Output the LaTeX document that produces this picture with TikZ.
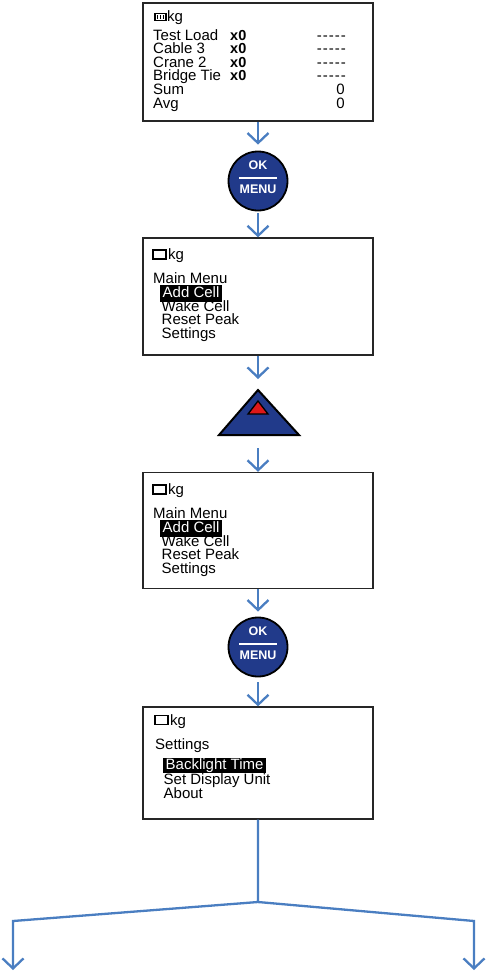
\documentclass[tikz,border=0pt]{standalone}
\usepackage{xcolor}
\usepackage{fontspec}
\setmainfont{Liberation Sans}
\usepackage{tikz}
\usetikzlibrary{shapes,arrows.meta,positioning}
\definecolor{flowblue}{RGB}{74,126,193}
\definecolor{keyblue}{RGB}{33,58,138}
\definecolor{keyred}{RGB}{222,24,24}
\newcommand{\nodash}{-\kern1pt-\kern1pt-\kern1pt-\kern1pt-}
\begin{document}
\begin{tikzpicture}
  [
    x=1pt, y=-1pt,
    Screen/.style={rectangle, draw=black!85, fill=white, line width=1.3pt, minimum width=230pt},
    Key/.style={circle, draw=black, fill=keyblue, line width=1.8pt, minimum size=59pt, inner sep=0pt},
    KeyText/.style={text=white, inner sep=0pt, font=\fontsize{12.5}{12.5}\selectfont\bfseries},
    Flow/.style={-{Straight Barb[length=10pt,width=21pt]}, draw=flowblue, line width=2.3pt},
    Row/.style={anchor=base west, inner sep=0pt, font=\fontsize{15}{15}\selectfont},
    Tag/.style={anchor=base west, inner sep=0pt, font=\fontsize{14.5}{14.5}\selectfont\bfseries},
    Dash/.style={anchor=base east, inner sep=0pt, font=\fontsize{15}{15}\selectfont},
    Sel/.style={Row, fill=black, text=white, inner xsep=2.5pt, inner ysep=0.5pt, text height=12pt, text depth=4pt},
    Batt/.style={rectangle, draw=black, line width=1.2pt, inner sep=0pt}
  ]
  \useasboundingbox (0,0) rectangle (485,972);

  % Screens
  \node[Screen, minimum height=118pt] (s1) at (258,62) {};
  \node[Screen, minimum height=117pt] (s2) at (258,296.5) {};
  \node[Screen, minimum height=116pt] (s3) at (258,530.5) {};
  \node[Screen, minimum height=112pt] (s4) at (258,763) {};

  % Keys
  \node[Key] (k1) at (258,181) {};
  \node[KeyText] (ok1) at (258,165) {OK};
  \node[KeyText] (menu1) at (258,189) {MENU};
  \draw[white, line width=2.6pt] (239,178) -- (277,178);
  \node[Key] (k2) at (258,647) {};
  \node[KeyText] (ok2) at (258,631) {OK};
  \node[KeyText] (menu2) at (258,655) {MENU};
  \draw[white, line width=2.6pt] (239,644) -- (277,644);

  \coordinate (upA) at (258,390);
  \coordinate (upB) at (258,435);
  \draw[fill=keyblue, line width=2pt] (219,435) -- (upA) -- (299,435) -- cycle;
  \draw[fill=keyred, line width=1.3pt] (248,414) -- (258,401) -- (268,414) -- cycle;

  % Screen 1
  \node[Batt, minimum width=11pt, minimum height=7pt] (b1) at (160.5,17) {};
  \draw[line width=1.2pt] (157.5,15) -- (157.5,19) (160.5,15) -- (160.5,19) (163.5,15) -- (163.5,19);
  \node[Row] (u1) at (167,21.7) {kg};
  \node[Row] (n1) at (153,40) {Test Load};
  \node[Row] (n2) at (153,53.6) {Cable 3};
  \node[Row] (n3) at (153,67.2) {Crane 2};
  \node[Row] (n4) at (153,80.8) {Bridge Tie};
  \node[Row] (n5) at (153,94.4) {Sum};
  \node[Row] (n6) at (153,108) {Avg};
  \node[Tag] (x1) at (230,40) {x0};
  \node[Tag] (x2) at (230,53.6) {x0};
  \node[Tag] (x3) at (230,67.2) {x0};
  \node[Tag] (x4) at (230,80.8) {x0};
  \node[Dash] (d1) at (346,40) {\nodash};
  \node[Dash] (d2) at (346,53.6) {\nodash};
  \node[Dash] (d3) at (346,67.2) {\nodash};
  \node[Dash] (d4) at (346,80.8) {\nodash};
  \node[Row, anchor=base east] (d5) at (345,94.4) {0};
  \node[Row, anchor=base east] (d6) at (345,108) {0};

  % Screen 2
  \node[Batt, minimum width=13pt, minimum height=9pt] (b2) at (159.5,254.5) {};
  \node[Row] (u2) at (168,259.5) {kg};
  \node[Row] (m2) at (153,283) {Main Menu};
  \node[Sel] (a2) at (160,297.5) {Add Cell};
  \node[Row] (w2) at (161.5,311) {Wake Cell};
  \node[Row] (r2) at (161.5,324.5) {Reset Peak};
  \node[Row] (g2) at (161.5,338) {Settings};

  % Screen 3
  \node[Batt, minimum width=13pt, minimum height=9pt] (b3) at (159.5,489.5) {};
  \node[Row] (u3) at (168,494.5) {kg};
  \node[Row] (m3) at (153,518) {Main Menu};
  \node[Sel] (a3) at (160,532.5) {Add Cell};
  \node[Row] (w3) at (161.5,546) {Wake Cell};
  \node[Row] (r3) at (161.5,559.5) {Reset Peak};
  \node[Row] (g3) at (161.5,573) {Settings};

  % Screen 4
  \node[Batt, minimum width=13pt, minimum height=9pt] (b4) at (161.5,720) {};
  \node[Row] (u4) at (170,725) {kg};
  \node[Row] (m4) at (155,749.3) {Settings};
  \node[Sel, text height=11.5pt, text depth=2.5pt] (a4) at (163,769.5) {Backlight Time};
  \node[Row] (w4) at (163.5,784) {Set Display Unit};
  \node[Row] (r4) at (163.5,798.5) {About};

  % Lines
  \coordinate (split) at (258,902);
  \coordinate (leftBend) at (13,921);
  \coordinate (rightBend) at (474,921);
  \coordinate (leftEnd) at (13,970);
  \coordinate (rightEnd) at (474,970);
  \draw[Flow, shorten >=6pt] (s1) -- (k1);
  \draw[Flow, shorten <=2pt] (k1) -- (s2);
  \draw[Flow, shorten >=11pt] (s2) -- (upA);
  \draw[Flow, shorten <=13pt] (upB) -- (s3);
  \draw[Flow, shorten >=5pt] (s3) -- (k2);
  \draw[Flow, shorten <=5pt] (k2) -- (s4);
  \draw[Flow] (s4.south) -- (split) -- (leftBend) -- (leftEnd);
  \draw[Flow] (split) -- (rightBend) -- (rightEnd);

\end{tikzpicture}
\end{document}
